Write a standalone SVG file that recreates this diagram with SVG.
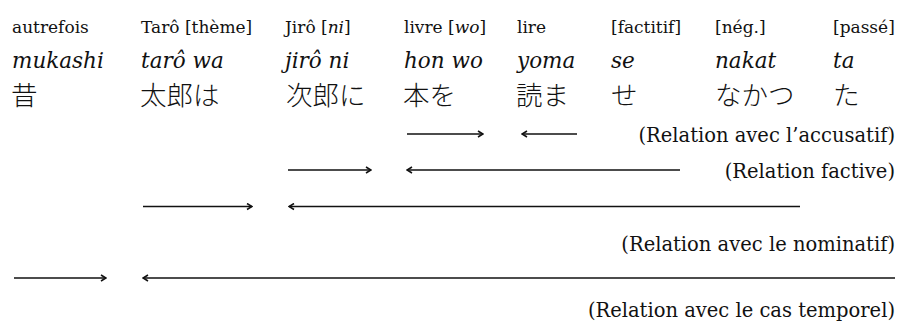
<svg xmlns="http://www.w3.org/2000/svg" width="898" height="324" viewBox="0 0 898 324">
<style>
.gl{font-family:"DejaVu Serif","Liberation Serif",serif;font-size:17px;fill:#111}
.it{font-family:"DejaVu Serif","Liberation Serif",serif;font-style:italic;font-size:21.5px;fill:#111}
.jp{font-family:"Noto Sans CJK JP","Noto Sans CJK SC",sans-serif;font-size:26.5px;font-weight:300;fill:#111}
.lb{font-family:"DejaVu Serif","Liberation Serif",serif;font-size:19.5px;fill:#111;text-anchor:end}
.ar{stroke:#111;stroke-width:1.6;fill:none;marker-end:url(#ah)}
</style>
<defs>
<marker id="ah" viewBox="-7 -4 8 8" refX="0" refY="0" markerWidth="8" markerHeight="8" markerUnits="userSpaceOnUse" orient="auto">
<path d="M-5,-3 L0,0 L-5,3" fill="none" stroke="#111" stroke-width="1.6"/>
</marker>
</defs>
<rect width="898" height="324" fill="#fff"/>
<g id="w1"><text class="gl" x="12" y="33">autrefois</text><text class="it" x="12" y="68">mukashi</text><text class="jp" x="11" y="105">昔</text></g>
<g id="w2"><text class="gl" x="141" y="33">Tarô [thème]</text><text class="it" x="141" y="68">tarô wa</text><text class="jp" x="140" y="105">太郎は</text></g>
<g id="w3"><text class="gl" x="285" y="33">Jirô [<tspan font-style="italic">ni</tspan>]</text><text class="it" x="285" y="68">jirô ni</text><text class="jp" x="286" y="105">次郎に</text></g>
<g id="w4"><text class="gl" x="404" y="33">livre [<tspan font-style="italic">wo</tspan>]</text><text class="it" x="404" y="68">hon wo</text><text class="jp" x="403" y="105">本を</text></g>
<g id="w5"><text class="gl" x="517" y="33">lire</text><text class="it" x="517" y="68">yoma</text><text class="jp" x="516" y="105">読ま</text></g>
<g id="w6"><text class="gl" x="611" y="33">[factitif]</text><text class="it" x="611" y="68">se</text><text class="jp" x="611" y="105">せ</text></g>
<g id="w7"><text class="gl" x="715" y="33">[nég.]</text><text class="it" x="715" y="68">nakat</text><text class="jp" x="715" y="105">なかつ</text></g>
<g id="w8"><text class="gl" x="833" y="33">[passé]</text><text class="it" x="833" y="68">ta</text><text class="jp" x="833" y="105">た</text></g>
<g id="labels">
<text class="lb" x="895" y="142">(Relation avec l’accusatif)</text>
<text class="lb" x="895" y="178">(Relation factive)</text>
<text class="lb" x="895" y="251">(Relation avec le nominatif)</text>
<text class="lb" x="895" y="317">(Relation avec le cas temporel)</text>
</g>
<g id="connectors">
<line class="ar" x1="407" y1="134" x2="483" y2="134"/>
<line class="ar" x1="577" y1="134" x2="522" y2="134"/>
<line class="ar" x1="288" y1="170" x2="371" y2="170"/>
<line class="ar" x1="680" y1="170" x2="407" y2="170"/>
<line class="ar" x1="143" y1="206.5" x2="252" y2="206.5"/>
<line class="ar" x1="800" y1="206.5" x2="289" y2="206.5"/>
<line class="ar" x1="14" y1="278" x2="106" y2="278"/>
<line class="ar" x1="895" y1="278" x2="143" y2="278"/>
</g>
</svg>
